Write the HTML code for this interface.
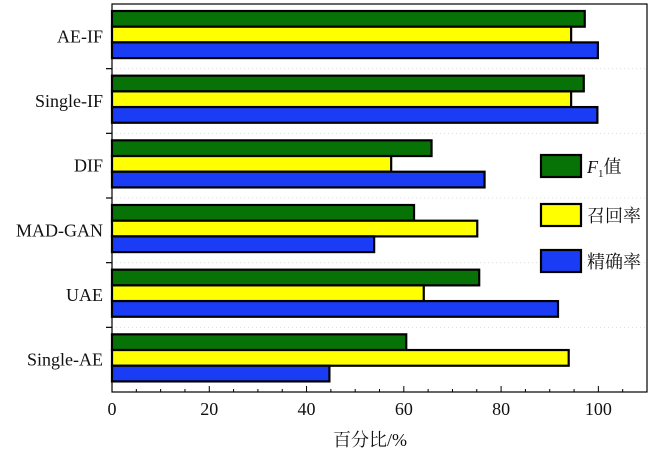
<!DOCTYPE html>
<html><head><meta charset="utf-8"><style>
html,body{margin:0;padding:0;background:#fff;}
svg{display:block;}
svg text{font-family:"Liberation Serif","Times New Roman","Noto Serif CJK SC",serif !important;fill:#111;}
</style></head><body>
<svg id="chart" width="650" height="456" viewBox="0 0 650 456" font-family="Liberation Serif, Noto Serif CJK SC, serif"></svg>
<script>
const categories=["AE-IF","Single-IF","DIF","MAD-GAN","UAE","Single-AE"];
const f1Values=[97.2,97.0,65.7,62.1,75.5,60.5];
const recallValues=[94.4,94.4,57.4,75.1,64.1,93.9];
const precisionValues=[99.9,99.8,76.6,53.9,91.7,44.7];
const xTicks=[0,20,40,60,80,100];
const seriesNames=["F1值","召回率","精确率"];

const NS="http://www.w3.org/2000/svg";
const svg=document.getElementById("chart");
const L=112,R=647,T=4,B=392,XMAX=110;
const xs=v=>L+(v/XMAX)*(R-L);
const gH=(B-T)/categories.length;
const ys=i=>T+i*gH;
function mk(tag,attrs,parent){const e=document.createElementNS(NS,tag);for(const k in attrs)e.setAttribute(k,attrs[k]);(parent||svg).appendChild(e);return e;}

for(let i=1;i<categories.length;i++){
  const g=mk("line",{x1:L,x2:R,y1:ys(i),y2:ys(i),stroke:"#ddd","stroke-dasharray":"1,3"});
  
  
  const t=mk("line",{x1:L-6,x2:L,y1:ys(i),y2:ys(i),stroke:"#000","stroke-width":1.2});
  
  
}
const series=[[f1Values,"#077307"],[recallValues,"#ffff00"],[precisionValues,"#1a3cf5"]];
const barH=15.7, off=7;
categories.forEach((c,i)=>{
  series.forEach((s,j)=>{
    const y=ys(i)+off+j*barH;
    const r=mk("rect",{x:L,y:y,width:xs(s[0][i])-L,height:barH,fill:s[1],stroke:"#000","stroke-width":2.2});
    
    
  });
  const lb=mk("text",{x:103,y:ys(i)+gH/2+6,"text-anchor":"end","font-size":18,"font-family":"Liberation Serif, serif"});
  lb.textContent=c;
  
  
});
const fr=mk("rect",{x:L,y:T,width:R-L,height:B-T,fill:"none",stroke:"#000","stroke-width":1.2});


for(let v=0;v<=XMAX;v+=5){
  const major=v%20===0;
  const t=mk("line",{x1:xs(v),x2:xs(v),y1:B,y2:B-(major?6:3),stroke:"#000","stroke-width":1});
  
  
}
xTicks.forEach(v=>{
  const t=mk("text",{x:xs(v),y:B+23,"text-anchor":"middle","font-size":18,"font-family":"Liberation Serif, serif"});
  t.textContent=v;
  
  
});
const xt=mk("text",{x:370,y:446,"text-anchor":"middle","font-size":18,"font-family":"Liberation Serif, Noto Serif CJK SC, serif"});
xt.textContent="百分比/%";


const legY=[155,204,250];
series.forEach((s,j)=>{
  const r=mk("rect",{x:541,y:legY[j],width:40,height:22,fill:s[1],stroke:"#000","stroke-width":2.2});
  
  
  const t=mk("text",{x:587,y:legY[j]+18,"font-size":18,"font-family":"Liberation Serif, Noto Serif CJK SC, serif"});
  if(j===0){
    t.innerHTML='<tspan font-style="italic">F</tspan><tspan font-size="11" dy="4">1</tspan><tspan dy="-4">值</tspan>';
  } else t.textContent=seriesNames[j];
  
  
});
</script>
</body></html>
